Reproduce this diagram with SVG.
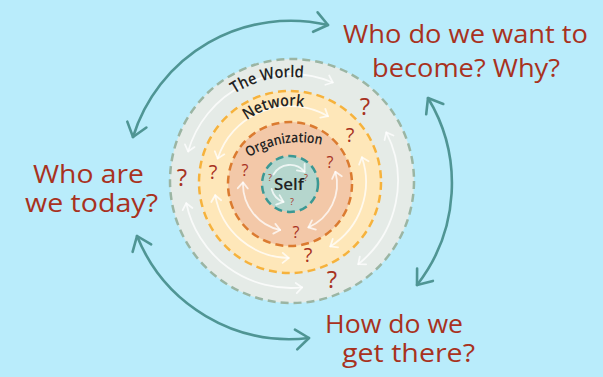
<svg xmlns="http://www.w3.org/2000/svg" width="603" height="377" viewBox="0 0 603 377">
<defs>
<style>
.ring{stroke-width:2.5;stroke-dasharray:8 5}
.outer{fill:none;stroke:#4f9594;stroke-width:2.6;stroke-linecap:round}
.inner{fill:none;stroke:#ffffff;stroke-opacity:0.75;stroke-width:1.8;stroke-linecap:round}
.q{font-family:"Open Sans","DejaVu Sans",sans-serif;fill:#a8321e;text-anchor:middle}
.big{font-family:"Open Sans","DejaVu Sans",sans-serif;fill:#a8321e;font-size:26px}
.lbl{font-family:"Open Sans","DejaVu Sans",sans-serif;fill:#222222;text-anchor:middle;font-weight:600}
</style>
<marker id="ah" viewBox="-20 -15 30 30" markerUnits="userSpaceOnUse" markerWidth="30" markerHeight="30" refX="0" refY="0" orient="auto-start-reverse">
<path d="M-13,-10 L0,0 L-13,10" fill="none" stroke="#4f9594" stroke-width="2.6" stroke-linecap="round" stroke-linejoin="round"/>
</marker>
<marker id="wh" viewBox="-10 -8 14 16" markerUnits="userSpaceOnUse" markerWidth="14" markerHeight="16" refX="0" refY="0" orient="auto-start-reverse">
<path d="M-6,-5 L0,0 L-6,5" fill="none" stroke="#ffffff" stroke-opacity="0.75" stroke-width="1.8" stroke-linecap="round" stroke-linejoin="round"/>
</marker>
<path id="pWorld" d="M217.5,107.5 A104,104 0 0 1 364.5,107.5"/>
<path id="pNet" d="M226,143.5 A75,75 0 0 1 356,143.5"/>
<path id="pOrg" d="M245,160 Q282,134 326,146"/>
</defs>
<rect x="0" y="0" width="603" height="377" fill="#b9ecfb"/>

<g id="ring-world">
<circle class="ring" cx="292" cy="181" r="122" fill="#e5ebe7" stroke="#9bb5a3"/>
</g>
<g id="ring-network">
<circle class="ring" cx="290" cy="182" r="91" fill="#fee7b9" stroke="#f6b23c"/>
</g>
<g id="ring-organization">
<circle class="ring" cx="290" cy="184" r="62" fill="#f3c8a8" stroke="#db7b30"/>
</g>
<g id="ring-self">
<circle class="ring" cx="290" cy="184" r="28" fill="#b5d6cd" stroke="#3b9893"/>
</g>

<g id="inner-arrows">
<path class="inner" d="M188.1,151.5 A107,107 0 0 1 332.8,82.5" marker-start="url(#wh)" marker-end="url(#wh)"/>
<path class="inner" d="M386.3,132.4 A107,107 0 0 1 358.3,264.2" marker-start="url(#wh)" marker-end="url(#wh)"/>
<path class="inner" d="M302.2,287.4 A107,107 0 0 1 186.3,203.2" marker-start="url(#wh)" marker-end="url(#wh)"/>
<path class="inner" d="M217.7,158.5 A76,76 0 0 1 328,116.2" marker-start="url(#wh)" marker-end="url(#wh)"/>
<path class="inner" d="M361.9,157.3 A76,76 0 0 1 330.3,246.4" marker-start="url(#wh)" marker-end="url(#wh)"/>
<path class="inner" d="M288.7,258 A76,76 0 0 1 215.2,195.2" marker-start="url(#wh)" marker-end="url(#wh)"/>
<path class="inner" d="M280.2,230 A47,47 0 0 1 243,182.4" marker-start="url(#wh)" marker-end="url(#wh)"/>
<path class="inner" d="M335.4,171.8 A47,47 0 0 1 308.4,227.3" marker-start="url(#wh)" marker-end="url(#wh)"/>
<path class="inner" d="M273.5,174.5 A19,19 0 0 1 304.6,171.8" stroke-opacity="0.5" marker-end="url(#wh)"/>
<path class="inner" d="M283.5,201.9 A19,19 0 0 1 271.6,188.9" stroke-opacity="0.5" marker-start="url(#wh)"/>
</g>

<g id="labels">
<text class="lbl" font-size="16"><textPath href="#pWorld" startOffset="35.5%" textLength="72" lengthAdjust="spacingAndGlyphs">The World</textPath></text>
<text class="lbl" font-size="16"><textPath href="#pNet" startOffset="39%" textLength="60" lengthAdjust="spacingAndGlyphs">Network</textPath></text>
<text class="lbl" font-size="14"><textPath href="#pOrg" startOffset="50%" textLength="76" lengthAdjust="spacingAndGlyphs">Organization</textPath></text>
<text class="lbl" font-size="17" x="289" y="190">Self</text>
</g>

<g id="questions">
<text class="q" font-size="24" x="182" y="186">?</text>
<text class="q" font-size="24" x="365" y="115">?</text>
<text class="q" font-size="24" x="332" y="288">?</text>
<text class="q" font-size="20" x="213" y="179">?</text>
<text class="q" font-size="20" x="350" y="142">?</text>
<text class="q" font-size="20" x="308" y="262">?</text>
<text class="q" font-size="16" x="245" y="176">?</text>
<text class="q" font-size="16" x="330" y="168">?</text>
<text class="q" font-size="16" x="296" y="238">?</text>
<text class="q" font-size="9" x="270" y="181" fill="#c8604a">?</text>
<text class="q" font-size="9" x="306" y="181" fill="#c8604a">?</text>
<text class="q" font-size="9" x="292" y="205" fill="#c8604a">?</text>
</g>

<g id="connectors">
<path class="outer" d="M328,25 A165,165 0 0 0 133,137" marker-start="url(#ah)" marker-end="url(#ah)"/>
<path class="outer" d="M428,98 A165,165 0 0 1 417,285" marker-start="url(#ah)" marker-end="url(#ah)"/>
<path class="outer" d="M137,236 A165,165 0 0 0 309,338" marker-start="url(#ah)" marker-end="url(#ah)"/>
</g>

<g id="node-become">
<text class="big" x="343" y="43" textLength="245" lengthAdjust="spacingAndGlyphs">Who do we want to</text>
<text class="big" x="372" y="77" textLength="188" lengthAdjust="spacingAndGlyphs">become? Why?</text>
</g>
<g id="node-today">
<text class="big" x="33" y="183" textLength="111" lengthAdjust="spacingAndGlyphs">Who are</text>
<text class="big" x="25" y="212" textLength="133" lengthAdjust="spacingAndGlyphs">we today?</text>
</g>
<g id="node-there">
<text class="big" x="325" y="333" textLength="138" lengthAdjust="spacingAndGlyphs">How do we</text>
<text class="big" x="342" y="362" textLength="133" lengthAdjust="spacingAndGlyphs">get there?</text>
</g>
</svg>
